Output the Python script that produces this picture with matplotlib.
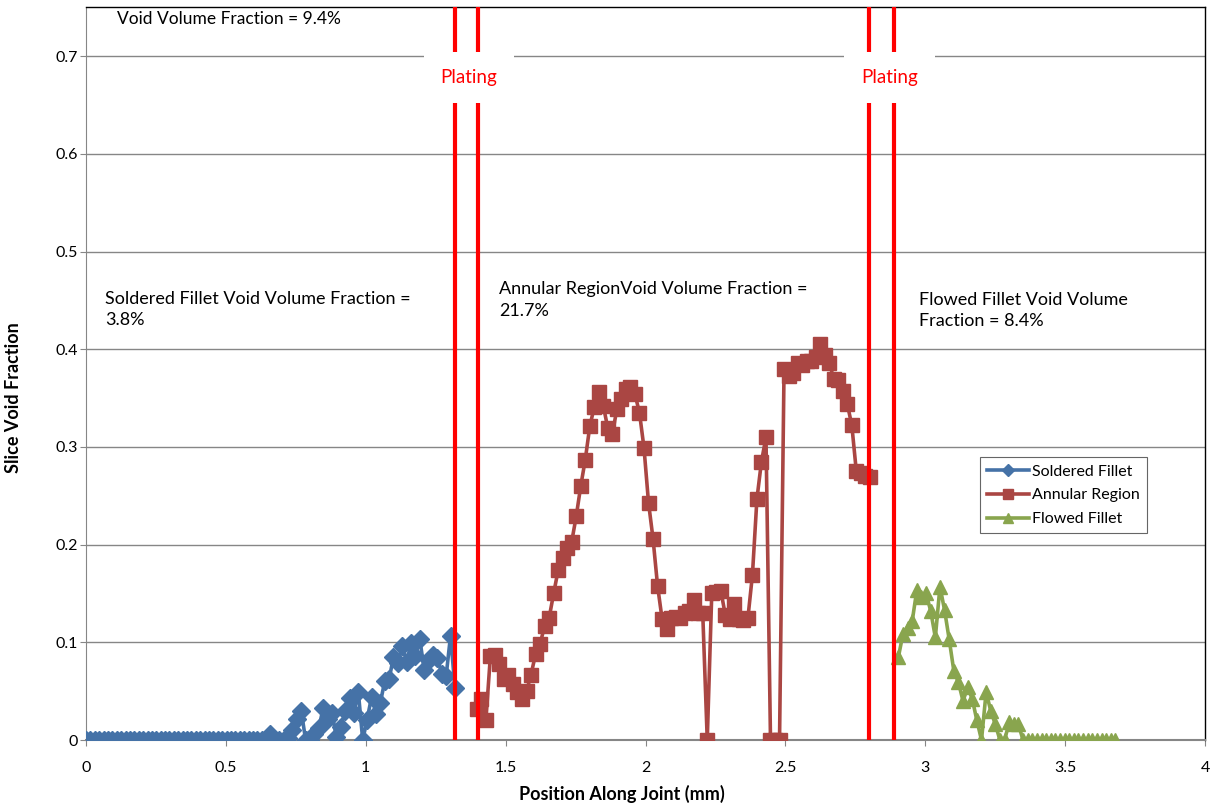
import numpy as np
import matplotlib
matplotlib.use('Agg')
import matplotlib.pyplot as plt

plt.rcParams['font.family'] = ['Lato', 'DejaVu Sans']

# slice void fraction along the joint, one value per slice
soldered_x0, soldered_dx = 0.0, 0.0157
soldered = [0.0] * 42 + [
    0.006, 0.0, 0.0, 0.0, 0.002, 0.010, 0.022, 0.030, 0.0, 0.0,
    0.006, 0.012, 0.033, 0.022, 0.028, 0.003, 0.013, 0.030, 0.043, 0.028,
    0.049, 0.0, 0.021, 0.044, 0.027, 0.038, 0.060, 0.062, 0.085, 0.079,
    0.096, 0.080, 0.099, 0.086, 0.103, 0.072, 0.082, 0.087, 0.084, 0.068,
    0.066, 0.107, 0.053]

annular_x0, annular_dx = 1.397, 0.01615
annular = [
    0.032, 0.042, 0.020, 0.086, 0.087, 0.078, 0.062, 0.067, 0.057, 0.049,
    0.042, 0.050, 0.067, 0.088, 0.098, 0.117, 0.125, 0.150, 0.174, 0.186,
    0.197, 0.203, 0.229, 0.260, 0.287, 0.321, 0.341, 0.356, 0.342, 0.319,
    0.313, 0.339, 0.349, 0.359, 0.361, 0.354, 0.335, 0.299, 0.243, 0.206,
    0.158, 0.124, 0.114, 0.125, 0.126, 0.125, 0.130, 0.132, 0.143, 0.130,
    0.130, 0.0, 0.150, 0.152, 0.153, 0.128, 0.124, 0.139, 0.124, 0.123,
    0.125, 0.169, 0.247, 0.285, 0.310, 0.0, 0.0, 0.0, 0.380, 0.373,
    0.376, 0.386, 0.384, 0.388, 0.388, 0.392, 0.405, 0.394, 0.386, 0.370,
    0.369, 0.357, 0.344, 0.322, 0.275, 0.273, 0.270, 0.269]

flowed_x0, flowed_dx = 2.904, 0.0165
flowed = [
    0.085, 0.109, 0.115, 0.122, 0.154, 0.146, 0.150, 0.132, 0.105, 0.157,
    0.133, 0.103, 0.071, 0.059, 0.040, 0.054, 0.042, 0.020, 0.0, 0.049,
    0.030, 0.016, 0.0, 0.0, 0.018, 0.016, 0.016, 0.0] + [0.0] * 20

plating_x = [1.32, 1.40, 2.80, 2.89]

soldered_pos = soldered_x0 + soldered_dx * np.arange(len(soldered))
annular_pos = annular_x0 + annular_dx * np.arange(len(annular))
flowed_pos = flowed_x0 + flowed_dx * np.arange(len(flowed))

fig = plt.figure(figsize=(12.22, 8.05), dpi=100)
ax = fig.add_axes([0.0704, 0.0807, 0.9157, 0.9102])

ax.plot(soldered_pos, soldered, color='#4572A7', lw=2.6, marker='D', ms=9,
        label='Soldered Fillet', zorder=3)
ax.plot(annular_pos, annular, color='#AA4643', lw=2.6, marker='s', ms=10,
        label='Annular Region', zorder=3)
ax.plot(flowed_pos, flowed, color='#89A54E', lw=2.6, marker='^', ms=10,
        label='Flowed Fillet', zorder=3)

for xp in plating_x:
    ax.axvline(xp, color='#FF0000', lw=3, zorder=4)

ax.set_xlim(0, 4)
ax.set_ylim(0, 0.75)
ax.set_xticks(np.arange(0, 4.01, 0.5))
ax.set_xticklabels(['0', '0.5', '1', '1.5', '2', '2.5', '3', '3.5', '4'])
ax.set_yticks(np.arange(0, 0.71, 0.1))
ax.set_yticklabels(['0', '0.1', '0.2', '0.3', '0.4', '0.5', '0.6', '0.7'])
ax.tick_params(labelsize=11.5, length=4, color='#868686')
ax.tick_params(axis='x', pad=11)
ax.tick_params(axis='y', pad=2)
ax.yaxis.grid(True, color='#868686', lw=1, zorder=0)
ax.set_axisbelow(True)

for side in ['top', 'right']:
    ax.spines[side].set_color('black')
    ax.spines[side].set_linewidth(1)
ax.spines['left'].set_color('#868686')
ax.spines['bottom'].set_color('#868686')
ax.spines['bottom'].set_linewidth(1.5)

ax.set_xlabel('Position Along Joint (mm)', fontsize=13, fontweight='bold')
ax.set_ylabel('Slice Void Fraction', fontsize=13, fontweight='bold')
ax.xaxis.set_label_coords(0.479, -0.061)
ax.yaxis.set_label_coords(-0.057, 0.468)

ax.text(0.111, 0.738, 'Void Volume Fraction = 9.4%', fontsize=12.5, va='center')
ax.text(0.068, 0.4406, 'Soldered Fillet Void Volume Fraction =\n3.8%',
        fontsize=13, va='center', linespacing=1.42)
ax.text(1.476, 0.4503, 'Annular RegionVoid Volume Fraction =\n21.7%',
        fontsize=13, va='center', linespacing=1.42)
ax.text(2.978, 0.4395, 'Flowed Fillet Void Volume\nFraction = 8.4%',
        fontsize=13, va='center', linespacing=1.42)

for xc in [1.369, 2.872]:
    ax.text(xc, 0.678, 'Plating', color='#FF0000', fontsize=13.5, ha='center',
            va='center', zorder=5,
            bbox=dict(facecolor='white', edgecolor='none', pad=12))

leg = ax.legend(loc='upper left', bbox_to_anchor=(0.799, 0.386), fontsize=11.5,
                frameon=True, fancybox=False, edgecolor='#404040',
                borderaxespad=0, handlelength=2.6, handletextpad=0.2,
                labelspacing=0.6, borderpad=0.45, markerscale=0.7)
leg.get_frame().set_linewidth(0.8)

fig.savefig('out.png', dpi=100)
